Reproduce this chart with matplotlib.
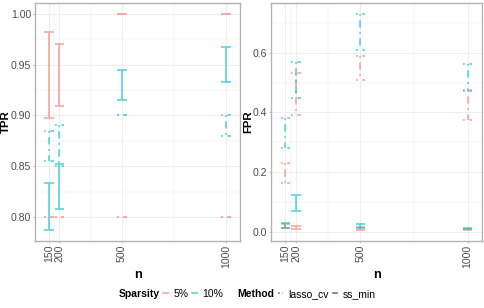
import numpy as np
import matplotlib
matplotlib.use("Agg")
import matplotlib.pyplot as plt
from matplotlib.lines import Line2D
from matplotlib.ticker import FixedLocator

plt.rcParams["font.family"] = ["Liberation Sans", "DejaVu Sans"]

# data
n_vals = [150, 200, 500, 1000]

tpr_ss_5_lo = [0.897, 0.909, 1.000, 1.000]
tpr_ss_5_hi = [0.982, 0.970, 1.000, 1.000]
tpr_ss_10_lo = [0.787, 0.808, 0.915, 0.933]
tpr_ss_10_hi = [0.833, 0.852, 0.945, 0.967]
tpr_cv_5_lo = [0.800, 0.800, 0.800, 0.800]
tpr_cv_5_hi = [0.800, 0.800, 0.800, 0.800]
tpr_cv_10_lo = [0.855, 0.850, 0.900, 0.880]
tpr_cv_10_hi = [0.885, 0.891, 0.900, 0.900]

fpr_ss_5_lo = [0.013, 0.010, 0.005, 0.005]
fpr_ss_5_hi = [0.025, 0.020, 0.015, 0.008]
fpr_ss_10_lo = [0.013, 0.071, 0.012, 0.008]
fpr_ss_10_hi = [0.029, 0.123, 0.027, 0.013]
fpr_cv_5_lo = [0.165, 0.392, 0.508, 0.376]
fpr_cv_5_hi = [0.229, 0.531, 0.591, 0.475]
fpr_cv_10_lo = [0.282, 0.447, 0.611, 0.473]
fpr_cv_10_hi = [0.381, 0.570, 0.731, 0.561]

sparsity_labels = ["5%", "10%"]
method_labels = ["lasso_cv", "ss_min"]

RED = "#F8766D"
CYAN = "#00BFC4"
LW = 1.3
ALPHA = 0.6
DOTDASH = (0, (1, 2.5, 4, 2.5))
BAR_W = 45  # errorbar width in n units
GRID = "#EBEBEB"
BORDER = "#B3B3B3"
TICKCOL = "#4D4D4D"
TICK_FS = 7.6
TITLE_FS = 8.2


def errorbar(ax, x, lo, hi, color, ls):
    xs, ys = [], []
    for xi, l, h in zip(x, lo, hi):
        xs += [xi - BAR_W / 2, xi + BAR_W / 2, np.nan, xi, xi, np.nan,
               xi - BAR_W / 2, xi + BAR_W / 2, np.nan]
        ys += [h, h, np.nan, h, l, np.nan, l, l, np.nan]
    ax.plot(xs, ys, color=color, lw=LW, ls=ls, alpha=ALPHA,
            solid_capstyle="butt", dash_capstyle="butt")


def style_axis(ax, ylabel, yticks, yminor, fmt, ylab_x):
    lo_x = n_vals[0] - BAR_W / 2
    hi_x = n_vals[-1] + BAR_W / 2
    pad = (hi_x - lo_x) * 0.05
    ax.set_xlim(lo_x - pad, hi_x + pad)
    ys = [l.get_ydata() for l in ax.lines]
    ymin = np.nanmin(np.concatenate(ys))
    ymax = np.nanmax(np.concatenate(ys))
    ypad = (ymax - ymin) * 0.05
    ax.set_ylim(ymin - ypad, ymax + ypad)

    ax.set_xticks(n_vals)
    ax.set_xticklabels([str(v) for v in n_vals], rotation=90, va="top", ha="center")
    ax.xaxis.set_minor_locator(FixedLocator([175, 350, 750]))
    ax.set_yticks(yticks)
    ax.set_yticklabels([fmt.format(v) for v in yticks])
    ax.yaxis.set_minor_locator(FixedLocator(yminor))

    ax.grid(which="major", color=GRID, lw=0.6, zorder=0)
    ax.grid(which="minor", color=GRID, lw=0.35, zorder=0)
    ax.set_axisbelow(True)
    ax.tick_params(which="major", length=1.6, width=0.6, color=BORDER,
                   labelsize=TICK_FS, labelcolor=TICKCOL, pad=1.2)
    ax.tick_params(which="minor", length=0)
    for s in ax.spines.values():
        s.set_color(BORDER)
        s.set_linewidth(1.0)
    ax.set_ylabel(ylabel, fontsize=TITLE_FS, fontweight="bold")
    ax.yaxis.set_label_coords(ylab_x, 0.5)
    ax.set_xlabel("n", fontsize=TITLE_FS + 1, fontweight="bold", labelpad=0.5)


fig = plt.figure(figsize=(4.84, 3.08), dpi=100)
ax1 = fig.add_axes([0.0723, 0.2175, 0.4236, 0.7727])
ax2 = fig.add_axes([0.5599, 0.2175, 0.4360, 0.7727])

errorbar(ax1, n_vals, tpr_cv_5_lo, tpr_cv_5_hi, RED, DOTDASH)
errorbar(ax1, n_vals, tpr_ss_5_lo, tpr_ss_5_hi, RED, "-")
errorbar(ax1, n_vals, tpr_cv_10_lo, tpr_cv_10_hi, CYAN, DOTDASH)
errorbar(ax1, n_vals, tpr_ss_10_lo, tpr_ss_10_hi, CYAN, "-")

errorbar(ax2, n_vals, fpr_cv_5_lo, fpr_cv_5_hi, RED, DOTDASH)
errorbar(ax2, n_vals, fpr_ss_5_lo, fpr_ss_5_hi, RED, "-")
errorbar(ax2, n_vals, fpr_cv_10_lo, fpr_cv_10_hi, CYAN, DOTDASH)
errorbar(ax2, n_vals, fpr_ss_10_lo, fpr_ss_10_hi, CYAN, "-")

style_axis(ax1, "TPR", [0.80, 0.85, 0.90, 0.95, 1.00],
           [0.825, 0.875, 0.925, 0.975], "{:.2f}", -0.118)
style_axis(ax2, "FPR", [0.0, 0.2, 0.4, 0.6], [0.1, 0.3, 0.5, 0.7], "{:.1f}", -0.082)

# bottom legend: Sparsity and Method in one row
blank = Line2D([], [], color="none")
handles = [
    blank,
    Line2D([], [], color=RED, lw=LW, alpha=ALPHA),
    Line2D([], [], color=CYAN, lw=LW, alpha=ALPHA),
    blank,
    Line2D([], [], color="#333333", lw=LW, alpha=ALPHA, ls=(0, (1, 1.5))),
    Line2D([], [], color="#333333", lw=LW, alpha=ALPHA),
]
labels = ["Sparsity"] + sparsity_labels + ["Method"] + method_labels
leg = fig.legend(handles, labels, loc="center", bbox_to_anchor=(0.5, 0.045),
                 ncol=6, frameon=False, fontsize=7.5, handlelength=0.45,
                 handletextpad=0.55, columnspacing=0.35, borderpad=0)
for t in leg.get_texts():
    if t.get_text() in ("Sparsity", "Method"):
        t.set_fontweight("bold")

fig.savefig("out.png", dpi=100)
